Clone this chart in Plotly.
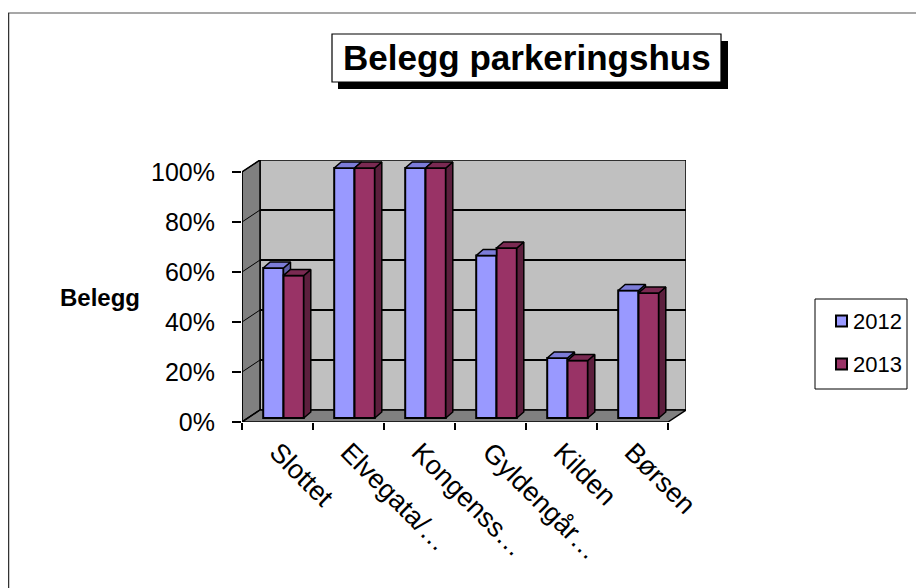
import plotly.graph_objects as go

# ---- data ----
categories = ["Slottet", "Elvegata/…", "Kongenss…", "Gyldengår…", "Kilden", "Børsen"]
series_names = ["2012", "2013"]
values_2012 = [60, 100, 100, 65, 24, 51]
values_2013 = [57, 100, 100, 68, 23, 50]
y_tick_values = [0, 20, 40, 60, 80, 100]
y_tick_labels = ["0%", "20%", "40%", "60%", "80%", "100%"]

# ---- geometry ----
W, H = 924, 588
PAGE_OFF = 8                                  # browser body margin
L_PX, R_PX, T_PX, B_PX = 242, 686, 160, 422   # target page-pixel box of the 3D chart
CAT_PX = 71.0
PCT_PX = 2.5
n = len(categories)
x_lo = -0.5
x_hi = x_lo + (R_PX - L_PX) / CAT_PX
y_hi = (B_PX - T_PX) / PCT_PX

wall_dx = 18 / CAT_PX
wall_dy = 12 / PCT_PX
bar_dx = 6 / CAT_PX
bar_base = 4 / PCT_PX
bar_w = 20.3 / CAT_PX
depth_dx = 7 / CAT_PX
depth_dy = 6 / PCT_PX

FONT = "Liberation Sans, Arial, sans-serif"

front_cols = ["#9999FF", "#993366"]
top_cols = ["#7C7CD8", "#7A2A52"]
side_cols = ["#5E5EA8", "#5C1F3D"]
offsets = [bar_dx - bar_w, bar_dx]

fig = go.Figure()
all_vals = [values_2012, values_2013]
for s, (name, vals) in enumerate(zip(series_names, all_vals)):
    fig.add_trace(go.Bar(
        x=list(range(n)), y=vals, base=[bar_base] * n, name=name,
        offset=offsets[s], width=[bar_w] * n,
        marker=dict(color=front_cols[s], line=dict(color="black", width=2)),
        hoverinfo="skip", showlegend=False,
    ))

# 3D faces (sides and tops) of the bars, computed from the values
for s, vals in enumerate(all_vals):
    side_x, side_y, top_x, top_y = [], [], [], []
    for i, v in enumerate(vals):
        x0 = i + offsets[s]
        x1 = x0 + bar_w
        yb = bar_base
        yt = v + bar_base
        if s == 0:
            y_next = values_2013[i] + bar_base
            if y_next < yt:
                side_x += [x1, x1, x1 + depth_dx, x1 + depth_dx, x1, None]
                side_y += [y_next, yt, yt + depth_dy, y_next + depth_dy, y_next, None]
                top_x += [x0, x1, x1 + depth_dx, x0 + depth_dx, x0, None]
                top_y += [yt, yt, yt + depth_dy, yt + depth_dy, yt, None]
            elif y_next > yt:
                top_x += [x0, x1, x1, x0 + depth_dx, x0, None]
                top_y += [yt, yt, yt + depth_dy, yt + depth_dy, yt, None]
            else:
                top_x += [x0, x1, x1 + depth_dx, x0 + depth_dx, x0, None]
                top_y += [yt, yt, yt + depth_dy, yt + depth_dy, yt, None]
        else:
            side_x += [x1, x1, x1 + depth_dx, x1 + depth_dx, x1, None]
            side_y += [yb, yt, yt + depth_dy, yb + depth_dy, yb, None]
            top_x += [x0, x1, x1 + depth_dx, x0 + depth_dx, x0, None]
            top_y += [yt, yt, yt + depth_dy, yt + depth_dy, yt, None]
    if side_x:
        fig.add_trace(go.Scatter(x=side_x, y=side_y, mode="lines", fill="toself",
                                 fillcolor=side_cols[s], line=dict(color="black", width=1.5),
                                 showlegend=False, hoverinfo="skip"))
    fig.add_trace(go.Scatter(x=top_x, y=top_y, mode="lines", fill="toself",
                             fillcolor=top_cols[s], line=dict(color="black", width=1.5),
                             showlegend=False, hoverinfo="skip"))

shapes = []
shapes.append(dict(type="rect", xref="x", yref="y", layer="below",
                   x0=x_lo + wall_dx, x1=x_lo + n + wall_dx, y0=wall_dy, y1=100 + wall_dy,
                   fillcolor="#C0C0C0", line=dict(color="black", width=1.5)))
shapes.append(dict(type="path", xref="x", yref="y", layer="below",
                   path=f"M {x_lo},0 L {x_lo + wall_dx},{wall_dy} L {x_lo + wall_dx},{100 + wall_dy} L {x_lo},100 Z",
                   fillcolor="#808080", line=dict(color="black", width=1.5)))
shapes.append(dict(type="path", xref="x", yref="y", layer="below",
                   path=f"M {x_lo},0 L {x_lo + n},0 L {x_lo + n + wall_dx},{wall_dy} L {x_lo + wall_dx},{wall_dy} Z",
                   fillcolor="#808080", line=dict(color="black", width=1.5)))
for v in y_tick_values:
    if 0 < v < 100:
        shapes.append(dict(type="line", xref="x", yref="y", layer="below",
                           x0=x_lo + wall_dx, x1=x_lo + n + wall_dx, y0=v + wall_dy, y1=v + wall_dy,
                           line=dict(color="black", width=2)))
    shapes.append(dict(type="line", xref="x", yref="y", layer="below",
                       x0=x_lo, x1=x_lo + wall_dx, y0=v, y1=v + wall_dy,
                       line=dict(color="black", width=1)))
shapes.append(dict(type="line", xref="x", yref="y", layer="below",
                   x0=x_lo, x1=x_lo, y0=0, y1=100, line=dict(color="black", width=1.5)))


def px(X):
    """page x pixel -> paper coordinate"""
    return (X - L_PX) / (R_PX - L_PX)


def py(Y):
    """page y pixel -> paper coordinate"""
    return (B_PX - Y) / (B_PX - T_PX)


# outer frame (top and left edges)
shapes.append(dict(type="line", xref="paper", yref="paper", x0=px(8), x1=px(W + PAGE_OFF), y0=py(13), y1=py(13),
                   line=dict(color="#8a8a8a", width=1.5)))
shapes.append(dict(type="line", xref="paper", yref="paper", x0=px(8.5), x1=px(8.5), y0=py(13), y1=py(H + PAGE_OFF),
                   line=dict(color="#333333", width=1.5)))
# title box with shadow
shapes.append(dict(type="rect", xref="paper", yref="paper", x0=px(338), x1=px(728), y0=py(41), y1=py(89),
                   fillcolor="black", line=dict(width=0)))
shapes.append(dict(type="rect", xref="paper", yref="paper", x0=px(332), x1=px(721), y0=py(34), y1=py(82),
                   fillcolor="white", line=dict(color="black", width=1.2)))

annotations = [
    dict(text="<b>Belegg parkeringshus</b>", xref="paper", yref="paper", x=px(527), y=py(58),
         xanchor="center", yanchor="middle", showarrow=False,
         font=dict(family=FONT, size=35, color="black")),
    dict(text="<b>Belegg</b>", xref="paper", yref="paper", x=px(142), y=py(297),
         xanchor="right", yanchor="middle", showarrow=False,
         font=dict(family=FONT, size=24, color="black")),
]

# legend drawn manually (box, swatches, labels)
legend_box = (815, 907, 299, 389)
legend_item_y = [321, 364]
shapes.append(dict(type="rect", xref="paper", yref="paper",
                   x0=px(legend_box[0]), x1=px(legend_box[1]), y0=py(legend_box[2]), y1=py(legend_box[3]),
                   fillcolor="white", line=dict(color="black", width=1)))
for s, name in enumerate(series_names):
    yc = legend_item_y[s]
    shapes.append(dict(type="rect", xref="paper", yref="paper",
                       x0=px(836), x1=px(847), y0=py(yc - 5.5), y1=py(yc + 5.5),
                       fillcolor=front_cols[s], line=dict(color="black", width=2)))
    annotations.append(dict(text=name, xref="paper", yref="paper", x=px(851), y=py(yc),
                            xanchor="left", yanchor="middle", showarrow=False,
                            font=dict(family=FONT, size=22, color="black")))

fig.update_layout(
    width=W, height=H, autosize=False,
    margin=dict(l=L_PX - PAGE_OFF, r=W - (R_PX - PAGE_OFF), t=T_PX - PAGE_OFF, b=H - (B_PX - PAGE_OFF), pad=0),
    paper_bgcolor="white", plot_bgcolor="white",
    barmode="overlay",
    shapes=shapes, annotations=annotations,
    showlegend=False,
    xaxis=dict(range=[x_lo, x_hi], tickvals=list(range(n)), ticktext=categories,
               tickangle=45, ticks="", showgrid=False, zeroline=False, showline=False,
               tickfont=dict(family=FONT, size=27, color="black"), ticklabelstandoff=8),
    xaxis2=dict(range=[x_lo, x_hi], overlaying="x", anchor="y", side="bottom",
                tickvals=[x_lo + k for k in range(n + 1)], ticks="outside", ticklen=7,
                tickwidth=1.5, tickcolor="black", showticklabels=False,
                showgrid=False, zeroline=False, showline=False),
    yaxis=dict(range=[0, y_hi], tickvals=y_tick_values, ticktext=y_tick_labels,
               ticks="outside", ticklen=9, tickwidth=1.5, tickcolor="black",
               showgrid=False, zeroline=False, showline=False,
               tickfont=dict(family=FONT, size=25, color="black"), ticklabelstandoff=12),
)
fig.add_trace(go.Scatter(x=[x_lo], y=[0], xaxis="x2", yaxis="y", mode="markers",
                         marker=dict(opacity=0), showlegend=False, hoverinfo="skip"))

fig.write_html("out.html", config={"displayModeBar": False})
